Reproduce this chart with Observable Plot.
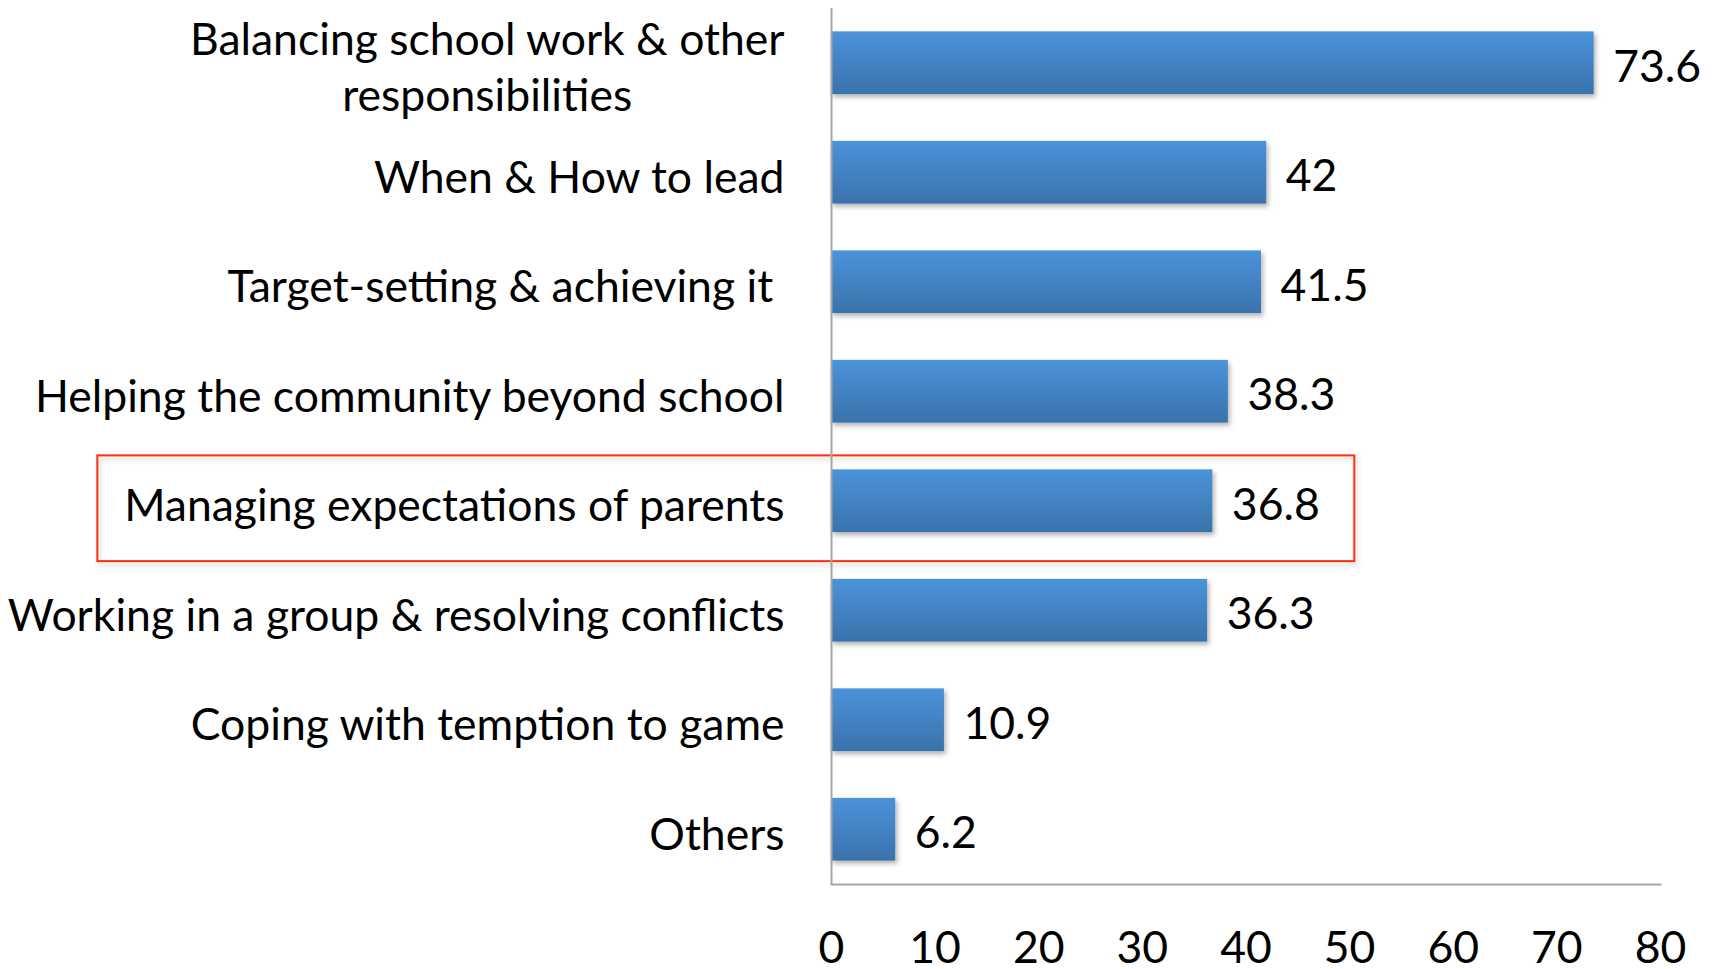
<!DOCTYPE html>
<html><head><meta charset="utf-8">
<script src="https://cdn.jsdelivr.net/npm/d3@7"></script>
<script src="https://cdn.jsdelivr.net/npm/@observablehq/plot@0.6"></script>
<style>body{margin:0;background:#fff}</style>
</head><body><div id="chart"></div>
<script>
const categories = [
  "Balancing school work & other\nresponsibilities",
  "When & How to lead",
  "Target-setting & achieving it\u00a0",
  "Helping the community beyond school",
  "Managing expectations of parents",
  "Working in a group & resolving conflicts",
  "Coping with temption to game",
  "Others"
];
const values = [73.6, 42, 41.5, 38.3, 36.8, 36.3, 10.9, 6.2];
const xTicks = [0, 10, 20, 30, 40, 50, 60, 70, 80];
const highlight = [{category: "Managing expectations of parents", x1: -70.8, x2: 50.5}];

const data = categories.map((c, i) => ({category: c, value: values[i]}));
const FONT = "Lato";
const FS = 44.5;

const plot = Plot.plot({
  width: 1715, height: 969,
  marginLeft: 831, marginRight: 55, marginTop: 8, marginBottom: 85,
  style: {fontFamily: FONT, fontSize: FS + "px", color: "#000", background: "#fff", overflow: "visible"},
  x: {domain: [0, 80], axis: null},
  y: {domain: categories, paddingInner: 0.427, paddingOuter: 0.2135, round: false, axis: null},
  marks: [
    Plot.rect(highlight, {x1: "x1", x2: "x2", y: "category", insetTop: -14, insetBottom: -29, fill: "none", stroke: "#ff2d12", strokeWidth: 2, clip: false, className: "hl"}),
    Plot.barX(data, {x: "value", y: "category", fill: "url(#barGrad)", className: "bars"}),
    Plot.text(data, {x: "value", y: "category", text: d => String(d.value), textAnchor: "start", dx: 19, dy: 4, fontSize: FS, fill: "#000"}),
    Plot.axisY({tickSize: 0, tickPadding: 47, dy: 2, fontSize: FS, lineHeight: 1.254, fill: "#000", label: null}),
    Plot.axisX({ticks: xTicks, tickSize: 0, tickPadding: 47, fontSize: FS, fill: "#000", label: null}),
    Plot.ruleX([0], {stroke: "#a6a6a6", strokeWidth: 2}),
    Plot.frame({anchor: "bottom", stroke: "#a6a6a6", strokeWidth: 2})
  ]
});

// gradient + shadow definitions
const ns = "http://www.w3.org/2000/svg";
const defs = document.createElementNS(ns, "defs");
defs.innerHTML = `
<linearGradient id="barGrad" x1="0" y1="0" x2="0" y2="1">
  <stop offset="0" stop-color="#4b93da"/>
  <stop offset="1" stop-color="#3a72ab"/>
</linearGradient>
<filter id="shadow" x="-10%" y="-20%" width="130%" height="160%">
  <feDropShadow dx="2" dy="3" stdDeviation="2.5" flood-color="#000" flood-opacity="0.3"/>
</filter>
<filter id="shadow2" x="-10%" y="-20%" width="130%" height="160%">
  <feDropShadow dx="2" dy="3" stdDeviation="2.5" flood-color="#000" flood-opacity="0.2"/>
</filter>`;
plot.insertBefore(defs, plot.firstChild);
plot.querySelectorAll("g.bars rect").forEach(r => r.setAttribute("filter", "url(#shadow)"));
plot.querySelectorAll("g.hl rect").forEach(r => r.setAttribute("filter", "url(#shadow2)"));

document.getElementById("chart").appendChild(plot);

// center multi-line y tick labels on their longest line
plot.querySelectorAll("text").forEach(t => {
  const spans = t.querySelectorAll("tspan");
  if (spans.length > 1) {
    const widths = Array.from(spans, s => s.getComputedTextLength());
    const maxW = Math.max(...widths);
    spans.forEach((s, i) => {
      const x0 = parseFloat(s.getAttribute("x") || 0);
      s.setAttribute("x", x0 - (maxW - widths[i]) / 2);
    });
  }
});
</script>
</body></html>
